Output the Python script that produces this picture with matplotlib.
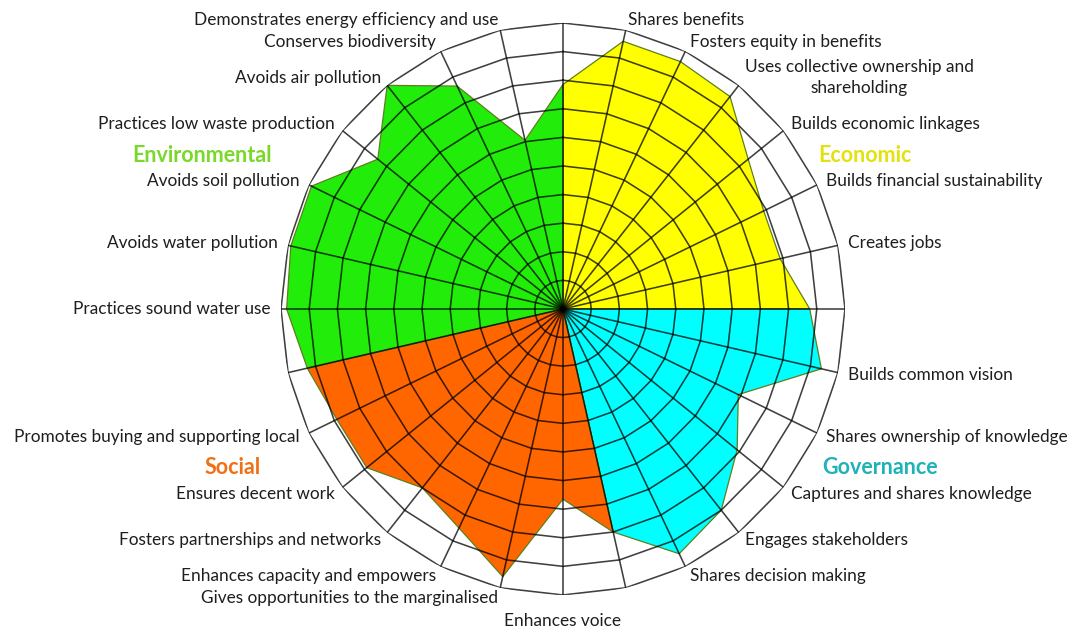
import numpy as np
import matplotlib
matplotlib.use("Agg")
import matplotlib.pyplot as plt

plt.rcParams['font.family'] = ['Lato', 'DejaVu Sans']

# 28 spokes, clockwise from top
categories = [
    "", "Shares benefits", "Fosters equity in benefits",
    "Uses collective ownership and\nshareholding", "Builds economic linkages",
    "Builds financial sustainability", "Creates jobs",
    "", "Builds common vision", "Shares ownership of knowledge",
    "Captures and shares knowledge", "Engages stakeholders", "Shares decision making",
    "", "Enhances voice", "Gives opportunities to the marginalised",
    "Enhances capacity and empowers", "Fosters partnerships and networks",
    "Ensures decent work", "Promotes buying and supporting local",
    "", "Practices sound water use", "Avoids water pollution", "Avoids soil pollution",
    "Practices low waste production", "Avoids air pollution", "Conserves biodiversity",
    "Demonstrates energy efficiency and use",
]
values = [7.85, 9.6, 9.6, 9.5, 8.4, 7.9, 7.9,
          8.75, 9.4, 6.9, 7.9, 9.0, 9.5,
          8.0, 6.65, 9.6, 8.5, 8.0, 8.9, 8.9,
          9.3, 9.8, 9.9, 9.9, 8.4, 10.0, 8.65, 6.05]

group_names = ["Economic", "Governance", "Social", "Environmental"]
group_start = [0, 7, 13, 20]
group_end = [7, 13, 20, 28]
group_fill = ["#FFFF00", "#00FFFF", "#FF6600", "#22EC0A"]
group_text_color = ["#E2E20E", "#1FB2B8", "#F07018", "#7AD82A"]

n = len(categories)
r_max = 10
theta = np.arange(n + 1) * 2 * np.pi / n
vals = np.array(values + [values[0]])

fig = plt.figure(figsize=(10.7, 6.31), dpi=100)
ax = fig.add_axes([0.2626, 0.0571, 0.5271, 0.9065], projection='polar')
ax.set_aspect('auto')
ax.set_theta_zero_location('N')
ax.set_theta_direction(-1)
ax.set_rlim(0, r_max)
ax.set_xticks([])
ax.set_yticks([])
ax.grid(False)
ax.spines['polar'].set_visible(False)
ax.patch.set_alpha(0)

# filled areas
for s, e, c in zip(group_start, group_end, group_fill):
    th = np.concatenate([[theta[s]], theta[s:e + 1], [theta[e]]])
    rr = np.concatenate([[0], vals[s:e + 1], [0]])
    ax.fill(th, rr, facecolor=c, edgecolor='#5E7F1E', linewidth=0.9, zorder=2)

# polygon grid
for r in range(1, r_max + 1):
    ax.plot(theta, [r] * (n + 1), color='black', alpha=0.75, lw=1.15, zorder=3)
for t in theta[:-1]:
    ax.plot([t, t], [0, r_max], color='black', alpha=0.75, lw=1.15, zorder=3)

# category labels
for k, lab in enumerate(categories):
    if not lab:
        continue
    t = theta[k]
    s, c = np.sin(t), np.cos(t)
    d = 10
    if abs(s) < 0.05:
        ha = 'center'
        va = 'top' if c < 0 else 'bottom'
        d = 18
    elif s > 0:
        ha = 'left'
        va = 'center'
    else:
        ha = 'right'
        va = 'center'
    ax.annotate(lab, xy=(t, r_max), xytext=(d * s, d * c), textcoords='offset pixels',
                ha=ha, va=va, multialignment='center', fontsize=12.4, color='#1E1E1E',
                linespacing=1.45, annotation_clip=False)

# group headings
head_pos = {"Economic": (818, 155), "Governance": (822, 467),
            "Social": (205, 467), "Environmental": (132, 155)}
W, H = 1070, 631
for name, col in zip(group_names, group_text_color):
    x, y = head_pos[name]
    fig.text(x / W, 1 - y / H, name, color=col, fontsize=15.5, fontweight='bold',
             ha='left', va='center')

fig.savefig('out.png', dpi=100, facecolor='white')
